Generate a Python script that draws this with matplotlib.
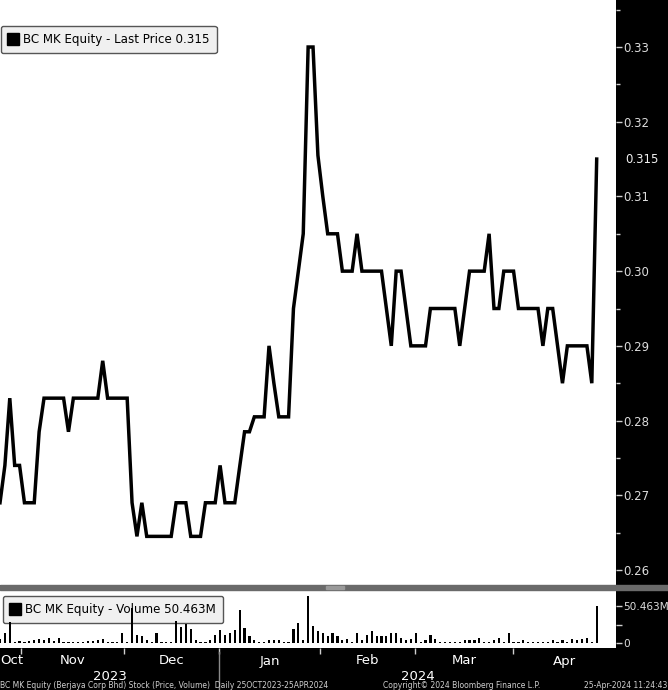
import numpy as np
import matplotlib
matplotlib.use('Agg')
import matplotlib.pyplot as plt
from matplotlib.lines import Line2D
from matplotlib.patches import Rectangle
from matplotlib.transforms import blended_transform_factory

# daily closes, 25 Oct 2023 - 25 Apr 2024 (trading days)
price = [
    0.269, 0.274, 0.283, 0.274, 0.274, 0.269, 0.269, 0.269, 0.2785, 0.283,
    0.283, 0.283, 0.283, 0.283, 0.2785, 0.283, 0.283, 0.283, 0.283, 0.283,
    0.283, 0.288, 0.283, 0.283, 0.283, 0.283, 0.283, 0.269, 0.2645, 0.269,
    0.2645, 0.2645, 0.2645, 0.2645, 0.2645, 0.2645, 0.269, 0.269, 0.269, 0.2645,
    0.2645, 0.2645, 0.269, 0.269, 0.269, 0.274, 0.269, 0.269, 0.269, 0.2738,
    0.2785, 0.2785, 0.2805, 0.2805, 0.2805, 0.290, 0.285, 0.2805, 0.2805, 0.2805,
    0.295, 0.300, 0.305, 0.330, 0.330, 0.3155, 0.310, 0.305, 0.305, 0.305,
    0.300, 0.300, 0.300, 0.305, 0.300, 0.300, 0.300, 0.300, 0.300, 0.295,
    0.290, 0.300, 0.300, 0.295, 0.290, 0.290, 0.290, 0.290, 0.295, 0.295,
    0.295, 0.295, 0.295, 0.295, 0.290, 0.295, 0.300, 0.300, 0.300, 0.300,
    0.305, 0.295, 0.295, 0.300, 0.300, 0.300, 0.295, 0.295, 0.295, 0.295,
    0.295, 0.290, 0.295, 0.295, 0.290, 0.285, 0.290, 0.290, 0.290, 0.290,
    0.290, 0.285, 0.315,
]

# volume in millions
volume = [
    6, 14, 29, 2, 3, 2, 3, 4.5, 5, 3.5,
    7, 3, 6.5, 2, 2, 2, 1.5, 1.5, 2.5, 3,
    3.5, 5, 2, 1.5, 1, 13.5, 2, 47, 11, 10,
    3.5, 1.5, 14, 1, 1, 1.5, 30, 22, 26, 19,
    3.5, 2, 2, 3.5, 11, 18, 11, 14, 18, 44,
    20, 9, 4.5, 1.5, 2, 4.5, 4.5, 4.5, 2, 1.5,
    19, 27, 4.5, 63, 23, 16, 14, 9, 13.5, 9,
    4.5, 5, 2, 14, 4.5, 11, 16, 10, 10, 10,
    14, 14, 7, 4.5, 5, 13.5, 2, 4.5, 11, 5.5,
    2, 1.5, 1.5, 1.5, 2, 3.5, 3.5, 3.5, 6.5, 1,
    1.5, 4.5, 6.5, 1.5, 13.5, 1.5, 2, 3.5, 1.5, 1.5,
    1.5, 2, 1.5, 3.5, 2, 3.5, 2, 5, 3.5, 5,
    6.5, 1.5, 50.463,
]

months = ['Oct', 'Nov', 'Dec', 'Jan', 'Feb', 'Mar', 'Apr']
month_edges = [4.3, 25.3, 44.8, 65.4, 84.9, 104.9]   # in trading-day units
years = ['2023', '2024']

W, H = 668, 690
def fx(px):
    return px / W
def fy(py):
    return 1 - py / H

fig = plt.figure(figsize=(W / 100, H / 100), dpi=100, facecolor='black')
ax = fig.add_axes([0, fy(585), fx(616), 585 / H])
axv = fig.add_axes([0, fy(648), fx(616), 58 / H])

days = np.arange(len(price))
px_day = 596.7 / (len(price) - 1)
xmax = 616 / px_day

# price panel
ax.plot(days, price, color='black', lw=2.5, solid_joinstyle='miter')
ax.set_xlim(0, xmax)
ax.set_ylim(0.26 - 15 / 7470, 0.33 + 47 / 7470)
ax.set_facecolor('white')
for s in ax.spines.values():
    s.set_visible(False)
ax.set_xticks([])
ax.yaxis.tick_right()
ax.set_yticks(np.arange(0.26, 0.3301, 0.01))
ax.set_yticklabels(['%.2f' % v for v in np.arange(0.26, 0.3301, 0.01)])
ax.set_yticks([0.265, 0.275, 0.285, 0.295, 0.305, 0.325, 0.335], minor=True)
ax.tick_params(axis='y', which='major', direction='out', length=4, width=1,
               color='#cfcfcf', labelcolor='#dcdcdc', labelsize=8.5, pad=1)
ax.tick_params(axis='y', which='minor', direction='out', length=3, width=1,
               color='#cfcfcf')
ax.text(625 / 616, price[-1], '%.3f' % price[-1], transform=ax.get_yaxis_transform(),
        ha='left', va='center', color='#f0f0f0', fontsize=8.5, clip_on=False)

h = Line2D([], [], marker='s', color='black', linestyle='none', markersize=8.5)
leg = ax.legend([h], ['BC MK Equity - Last Price %.3f' % price[-1]], loc='upper left',
                bbox_to_anchor=(1 / 616, 1 - 26 / 585), borderaxespad=0,
                fancybox=True, facecolor='#f0f0f0', edgecolor='#555555', framealpha=1,
                fontsize=8.6, handlelength=0.8, handletextpad=0.45, borderpad=0.6)
leg.get_frame().set_linewidth(1)

# volume panel
axv.bar(days, volume, width=0.45, color='black', zorder=2)
axv.set_xlim(0, xmax)
axv.set_ylim(-5 * 50.463 / 37.3, 53 * 50.463 / 37.3)
axv.set_facecolor('white')
for s in axv.spines.values():
    s.set_visible(False)
axv.yaxis.tick_right()
axv.set_yticks([0, volume[-1]])
axv.set_yticklabels(['0', '%.3fM' % volume[-1]])
axv.set_yticks([25], minor=True)
axv.tick_params(axis='y', which='both', direction='out', length=4, width=1,
                color='#cfcfcf', labelcolor='#dcdcdc', labelsize=7.6, pad=1)
axv.set_xticks(month_edges)
axv.set_xticklabels([])
axv.tick_params(axis='x', direction='out', length=4, width=1, color='#cfcfcf')

hv = Line2D([], [], marker='s', color='black', linestyle='none', markersize=8.5)
legv = axv.legend([hv], ['BC MK Equity - Volume %.3fM' % volume[-1]], loc='upper left',
                  bbox_to_anchor=(3 / 616, 1 - 6 / 58), borderaxespad=0,
                  fancybox=True, facecolor='#f0f0f0', edgecolor='#555555', framealpha=1,
                  fontsize=8.6, handlelength=0.8, handletextpad=0.45, borderpad=0.6)
legv.get_frame().set_linewidth(1)
legv.set_zorder(1)

# splitter between panels
fig.add_artist(Rectangle((0, fy(590)), 1, 5 / H, transform=fig.transFigure,
                         color='#6a6a6a', zorder=5))
fig.add_artist(Rectangle((fx(326), fy(589)), fx(18), 3 / H, transform=fig.transFigure,
                         color='#9a9a9a', zorder=6))

# month / year labels
tr = blended_transform_factory(axv.transData, fig.transFigure)
edges = [0] + month_edges + [126]
for i, m in enumerate(months):
    if i == 0:
        fig.text(0, fy(661), m, ha='left', va='center', color='white', fontsize=9.5)
    else:
        c = (edges[i] + edges[i + 1]) / 2
        axv.text(c, fy(661), m, transform=tr, ha='center', va='center',
                 color='white', fontsize=9.5, clip_on=False)
axv.text(month_edges[2] / 2, fy(676), years[0], transform=tr, ha='center', va='center',
         color='white', fontsize=9.5, clip_on=False)
axv.text((month_edges[2] + xmax) / 2, fy(676), years[1], transform=tr, ha='center',
         va='center', color='white', fontsize=9.5, clip_on=False)
fig.add_artist(Line2D([fx(month_edges[2] * px_day)] * 2, [fy(652), 0],
                      transform=fig.transFigure, color='#8a8a8a', lw=1))

# footer
fig.text(0, fy(681), 'BC MK Equity (Berjaya Corp Bhd) Stock (Price, Volume)  Daily 25OCT2023-25APR2024',
         ha='left', va='top', color='#d0d0d0', fontsize=5.5)
fig.text(fx(383), fy(681), 'Copyright\u00a9 2024 Bloomberg Finance L.P.',
         ha='left', va='top', color='#d0d0d0', fontsize=5.5)
fig.text(fx(584), fy(681), '25-Apr-2024 11:24:43',
         ha='left', va='top', color='#d0d0d0', fontsize=5.5)

fig.savefig('out.png', dpi=100, facecolor='black')
